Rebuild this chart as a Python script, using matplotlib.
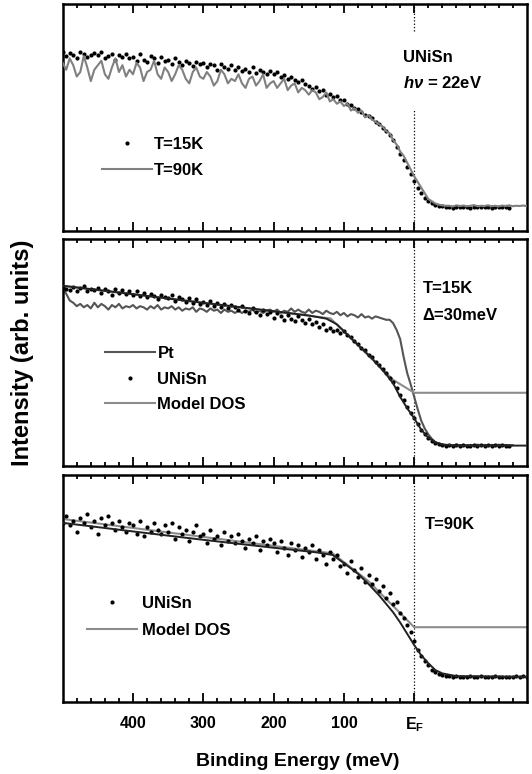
"""UNiSn photoemission near E_F: three stacked panels (T=15K/90K, gap model)."""

import matplotlib

matplotlib.use("Agg")
import matplotlib.pyplot as plt
import numpy as np
from matplotlib import font_manager
from matplotlib.ticker import FixedLocator, FixedFormatter

installed = {f.name for f in font_manager.fontManager.ttflist}
NARROW = "Liberation Sans Narrow" in installed
FONT = "Liberation Sans Narrow" if NARROW else "Liberation Sans"
# text sizes: annotation, legend, ticks, x label, y label
if NARROW:
    FS_ANN, FS_LEG, FS_TICK, FS_XL, FS_YL = 14.5, 14, 13, 16.5, 20
else:
    FS_ANN, FS_LEG, FS_TICK, FS_XL, FS_YL = 12, 12, 11.5, 14, 17

plt.rcParams["font.family"] = [FONT, "DejaVu Sans"]
plt.rcParams["font.weight"] = "bold"
plt.rcParams["mathtext.fontset"] = "custom"
plt.rcParams["mathtext.rm"] = FONT + ":bold"
plt.rcParams["mathtext.it"] = FONT + ":bold:italic"
plt.rcParams["mathtext.bf"] = FONT + ":bold"

# ---------------------------------------------------------------- data
# binding energy grids (meV), 5 meV sampling
e_top_15k = np.arange(500, -140, -5)
e_top_90k = np.arange(500, -165, -5)
e_mid_pt = np.arange(500, -145, -5)
e_mid_dots = np.arange(500, -140, -5)
e_bot_dots = np.arange(500, -165, -5)

# top panel: T=15K (dots) and T=90K (line)
top_15k = [
    0.79, 0.77, 0.785, 0.775, 0.76, 0.79, 0.78, 0.765, 0.775, 0.785,
    0.775, 0.79, 0.76, 0.77, 0.78, 0.755, 0.775, 0.765, 0.78, 0.76,
    0.765, 0.75, 0.78, 0.755, 0.745, 0.77, 0.76, 0.74, 0.765, 0.75,
    0.755, 0.735, 0.76, 0.745, 0.73, 0.75, 0.74, 0.725, 0.745, 0.735,
    0.74, 0.72, 0.735, 0.73, 0.71, 0.735, 0.72, 0.715, 0.73, 0.71,
    0.72, 0.705, 0.715, 0.70, 0.72, 0.695, 0.71, 0.70, 0.69, 0.705,
    0.69, 0.70, 0.68, 0.685, 0.67, 0.68, 0.665, 0.655, 0.665, 0.645,
    0.64, 0.625, 0.635, 0.615, 0.62, 0.60, 0.605, 0.59, 0.595, 0.575,
    0.575, 0.56, 0.555, 0.54, 0.535, 0.525, 0.51, 0.505, 0.495, 0.48,
    0.47, 0.455, 0.44, 0.42, 0.40, 0.37, 0.34, 0.31, 0.28, 0.25,
    0.22, 0.19, 0.165, 0.145, 0.13, 0.12, 0.115, 0.11, 0.107, 0.106,
    0.105, 0.102, 0.106, 0.104, 0.103, 0.105, 0.102, 0.104, 0.106, 0.103,
    0.104, 0.105, 0.102, 0.104, 0.103, 0.105, 0.104, 0.102,
]
top_90k = [
    0.74, 0.71, 0.76, 0.73, 0.68, 0.70, 0.77, 0.72, 0.66, 0.71,
    0.73, 0.75, 0.69, 0.67, 0.72, 0.76, 0.70, 0.73, 0.68, 0.71,
    0.69, 0.74, 0.72, 0.66, 0.70, 0.71, 0.75, 0.69, 0.67, 0.72,
    0.70, 0.66, 0.69, 0.73, 0.71, 0.67, 0.65, 0.70, 0.72, 0.68,
    0.67, 0.70, 0.68, 0.64, 0.66, 0.71, 0.69, 0.65, 0.67, 0.66,
    0.69, 0.65, 0.63, 0.67, 0.68, 0.64, 0.66, 0.69, 0.63, 0.65,
    0.66, 0.63, 0.65, 0.67, 0.62, 0.64, 0.65, 0.61, 0.63, 0.62,
    0.60, 0.62, 0.61, 0.58, 0.59, 0.61, 0.57, 0.58, 0.56, 0.57,
    0.55, 0.56, 0.53, 0.54, 0.52, 0.53, 0.50, 0.51, 0.49, 0.48,
    0.47, 0.46, 0.44, 0.43, 0.40, 0.38, 0.35, 0.33, 0.30, 0.27,
    0.24, 0.215, 0.19, 0.165, 0.14, 0.13, 0.12, 0.115, 0.112, 0.11,
    0.11, 0.107, 0.112, 0.109, 0.111, 0.108, 0.11, 0.113, 0.108, 0.11,
    0.109, 0.112, 0.108, 0.11, 0.107, 0.111, 0.109, 0.112, 0.108, 0.11,
    0.109, 0.111, 0.108,
]

# middle panel: Pt reference, UNiSn at 15K, model DOS and its fit
mid_pt = [
    0.785, 0.76, 0.73, 0.72, 0.705, 0.715, 0.70, 0.71, 0.695, 0.72,
    0.70, 0.715, 0.705, 0.69, 0.71, 0.70, 0.715, 0.695, 0.705, 0.70,
    0.71, 0.695, 0.705, 0.70, 0.69, 0.705, 0.695, 0.71, 0.69, 0.70,
    0.695, 0.705, 0.69, 0.70, 0.685, 0.695, 0.69, 0.70, 0.68, 0.695,
    0.69, 0.68, 0.695, 0.685, 0.69, 0.675, 0.69, 0.68, 0.685, 0.675,
    0.685, 0.675, 0.685, 0.68, 0.69, 0.675, 0.685, 0.675, 0.685, 0.69,
    0.68, 0.69, 0.675, 0.685, 0.68, 0.695, 0.68, 0.69, 0.68, 0.675,
    0.69, 0.675, 0.685, 0.68, 0.67, 0.685, 0.675, 0.67, 0.68, 0.665,
    0.675, 0.66, 0.67, 0.665, 0.655, 0.67, 0.655, 0.66, 0.65, 0.66,
    0.655, 0.65, 0.645, 0.645, 0.63, 0.60, 0.56, 0.48, 0.41, 0.36,
    0.305, 0.25, 0.20, 0.165, 0.14, 0.12, 0.105, 0.098, 0.094, 0.092,
    0.093, 0.091, 0.094, 0.092, 0.093, 0.091, 0.093, 0.092, 0.094, 0.092,
    0.093, 0.091, 0.093, 0.092, 0.094, 0.092, 0.093, 0.091, 0.092,
]
mid_dots = [
    0.79, 0.78, 0.775, 0.79, 0.77, 0.785, 0.795, 0.77, 0.78, 0.775,
    0.785, 0.765, 0.78, 0.77, 0.755, 0.78, 0.765, 0.775, 0.76, 0.77,
    0.755, 0.77, 0.75, 0.765, 0.745, 0.76, 0.75, 0.735, 0.755, 0.745,
    0.74, 0.755, 0.73, 0.745, 0.735, 0.725, 0.74, 0.72, 0.735, 0.715,
    0.725, 0.71, 0.73, 0.705, 0.72, 0.70, 0.715, 0.695, 0.71, 0.70,
    0.69, 0.705, 0.685, 0.675, 0.695, 0.68, 0.665, 0.69, 0.67, 0.68,
    0.655, 0.675, 0.66, 0.645, 0.665, 0.65, 0.64, 0.66, 0.645, 0.63,
    0.65, 0.625, 0.635, 0.615, 0.625, 0.60, 0.61, 0.595, 0.60, 0.585,
    0.595, 0.58, 0.57, 0.55, 0.54, 0.52, 0.51, 0.49, 0.48, 0.46,
    0.445, 0.43, 0.41, 0.39, 0.37, 0.345, 0.315, 0.29, 0.26, 0.235,
    0.21, 0.185, 0.16, 0.14, 0.125, 0.11, 0.10, 0.095, 0.092, 0.09,
    0.091, 0.089, 0.092, 0.09, 0.091, 0.089, 0.09, 0.092, 0.09, 0.091,
    0.09, 0.092, 0.089, 0.091, 0.09, 0.092, 0.09, 0.089,
]
mid_dos_e = [500, 119, 30, 0, -160]
mid_dos = [0.795, 0.651, 0.38, 0.323, 0.323]
mid_fit_e = [500, 400, 300, 200, 150, 125, 110, 100, 80, 60, 40, 30, 20, 10,
             0, -10, -20, -30, -40, -60, -160]
mid_fit = [0.795, 0.758, 0.72, 0.683, 0.664, 0.65, 0.625, 0.595, 0.535, 0.475,
           0.405, 0.365, 0.305, 0.255, 0.21, 0.16, 0.125, 0.105, 0.095, 0.09,
           0.09]

# bottom panel: UNiSn at 90K, model DOS and its fit
bot_dots = [
    0.79, 0.82, 0.78, 0.80, 0.75, 0.81, 0.79, 0.83, 0.77, 0.80,
    0.74, 0.81, 0.78, 0.82, 0.79, 0.76, 0.80, 0.77, 0.75, 0.79,
    0.78, 0.74, 0.80, 0.73, 0.77, 0.75, 0.79, 0.76, 0.74, 0.78,
    0.75, 0.79, 0.72, 0.77, 0.74, 0.76, 0.71, 0.75, 0.78, 0.73,
    0.74, 0.70, 0.76, 0.72, 0.73, 0.69, 0.75, 0.71, 0.73, 0.70,
    0.74, 0.71, 0.68, 0.72, 0.70, 0.73, 0.67, 0.71, 0.69, 0.72,
    0.70, 0.66, 0.71, 0.68, 0.65, 0.70, 0.67, 0.69, 0.64, 0.68,
    0.66, 0.69, 0.63, 0.67, 0.65, 0.61, 0.66, 0.63, 0.65, 0.60,
    0.61, 0.57, 0.62, 0.58, 0.55, 0.59, 0.53, 0.56, 0.52, 0.54,
    0.49, 0.51, 0.46, 0.48, 0.43, 0.44, 0.39, 0.37, 0.34, 0.31,
    0.27, 0.23, 0.20, 0.18, 0.16, 0.14, 0.13, 0.122, 0.118, 0.115,
    0.112, 0.109, 0.113, 0.108, 0.111, 0.109, 0.112, 0.108, 0.11, 0.113,
    0.109, 0.111, 0.108, 0.112, 0.109, 0.11, 0.108, 0.111, 0.109, 0.113,
    0.11, 0.115, 0.111,
]
bot_dos_e = [500, 116, 66, 0, -160]
bot_dos = [0.807, 0.655, 0.535, 0.329, 0.329]
bot_fit_e = [500, 400, 300, 200, 140, 116, 100, 80, 66, 50, 30, 20, 10, 0,
             -10, -20, -30, -40, -60, -160]
bot_fit = [0.79, 0.752, 0.715, 0.68, 0.66, 0.648, 0.612, 0.565, 0.523, 0.47,
           0.395, 0.35, 0.30, 0.25, 0.205, 0.17, 0.14, 0.125, 0.113, 0.11]

major_ticks = [400, 300, 200, 100, 0]
major_labels = ["400", "300", "200", "100", r"E$_\mathrm{F}$"]
minor_ticks = [480, 460, 440, 420, 380, 360, 340, 320, 280, 260, 240, 220,
               180, 160, 140, 120, 80, 60, 40, 20, -20, -40, -60, -80,
               -100, -120, -140]

# ---------------------------------------------------------------- figure
W, H = 532, 774
fig = plt.figure(figsize=(W / 100, H / 100), dpi=100)


def add_panel(top_px, bottom_px):
    left, right = 62.7, 526.7
    return fig.add_axes([left / W, 1 - bottom_px / H,
                         (right - left) / W, (bottom_px - top_px) / H])


ax_top = add_panel(4, 230.7)
ax_mid = add_panel(239.3, 466)
ax_bot = add_panel(475.3, 701.7)

DOT = dict(ls="none", marker="o", ms=3.0, mfc="black", mec="black", mew=0)
GRAY = "#808080"
PT = "#555555"
DOS = "#8c8c8c"
LEG = dict(frameon=False, fontsize=FS_LEG, handlelength=3.0,
           borderpad=0, borderaxespad=0, loc="upper left")

for ax in (ax_top, ax_mid, ax_bot):
    ax.set_xlim(500, -160)
    ax.set_ylim(0, 1)
    ax.xaxis.set_major_locator(FixedLocator(major_ticks))
    ax.xaxis.set_minor_locator(FixedLocator(minor_ticks))
    ax.tick_params(which="both", direction="in", top=True, bottom=True,
                   left=False, right=False, labelleft=False, width=1.3)
    ax.tick_params(which="major", length=6.5)
    ax.tick_params(which="minor", length=3.2)
    for sp in ax.spines.values():
        sp.set_linewidth(1.8)

# top panel
ax_top.axvline(0, ymin=0, ymax=0.534, color="black", ls=":", lw=0.9)
ax_top.axvline(0, ymin=0.882, ymax=1, color="black", ls=":", lw=0.9)
h15, = ax_top.plot(e_top_15k, top_15k, **DOT, zorder=2)
h90, = ax_top.plot(e_top_90k, top_90k, color=GRAY, lw=1.5, zorder=3)
ax_top.legend([h15, h90], ["T=15K", "T=90K"], bbox_to_anchor=(0.084, 0.412),
              handletextpad=0.15, labelspacing=0.66, **LEG)
ax_top.text(0.734, 0.745, "UNiSn", transform=ax_top.transAxes,
            fontsize=FS_ANN, va="baseline", ha="left")
ax_top.text(0.734, 0.628, r"$h\nu$ = 22eV", transform=ax_top.transAxes,
            fontsize=FS_ANN, va="baseline", ha="left")

# middle panel
ax_mid.axvline(0, color="black", ls=":", lw=0.9)
hpt, = ax_mid.plot(e_mid_pt, mid_pt, color=PT, lw=1.5, zorder=2)
hdos, = ax_mid.plot(mid_dos_e, mid_dos, color=DOS, lw=1.5, zorder=2)
hun, = ax_mid.plot(e_mid_dots, mid_dots, **DOT, zorder=3)
ax_mid.plot(mid_fit_e, mid_fit, color="#222222", lw=1.4, zorder=4)
ax_mid.legend([hpt, hun, hdos], ["Pt", "UNiSn", "Model DOS"],
              bbox_to_anchor=(0.091, 0.528), handletextpad=0.15,
              labelspacing=0.63, **LEG)
ax_mid.text(0.776, 0.763, "T=15K", transform=ax_mid.transAxes,
            fontsize=FS_ANN, va="baseline", ha="left")
ax_mid.text(0.776, 0.644, "Δ=30meV", transform=ax_mid.transAxes,
            fontsize=FS_ANN, va="baseline", ha="left")

# bottom panel
ax_bot.axvline(0, color="black", ls=":", lw=0.9)
hdos2, = ax_bot.plot(bot_dos_e, bot_dos, color=DOS, lw=1.5, zorder=2)
hun2, = ax_bot.plot(e_bot_dots, bot_dots, **DOT, zorder=3)
ax_bot.plot(bot_fit_e, bot_fit, color="#222222", lw=1.4, zorder=4)
ax_bot.legend([hun2, hdos2], ["UNiSn", "Model DOS"],
              bbox_to_anchor=(0.053, 0.469), handletextpad=0.3,
              labelspacing=0.72, **LEG)
ax_bot.text(0.78, 0.763, "T=90K", transform=ax_bot.transAxes,
            fontsize=FS_ANN, va="baseline", ha="left")

for ax in (ax_top, ax_mid):
    ax.tick_params(labelbottom=False)
ax_bot.xaxis.set_major_formatter(FixedFormatter(major_labels))
ax_bot.tick_params(which="major", labelsize=FS_TICK, pad=10)

fig.text(298 / W, 1 - 766 / H, "Binding Energy (meV)", fontsize=FS_XL,
         ha="center", va="baseline")
fig.text(23 / W, 1 - 353 / H, "Intensity (arb. units)", fontsize=FS_YL,
         ha="center", va="center", rotation=90)

fig.savefig("out.png", dpi=100)
